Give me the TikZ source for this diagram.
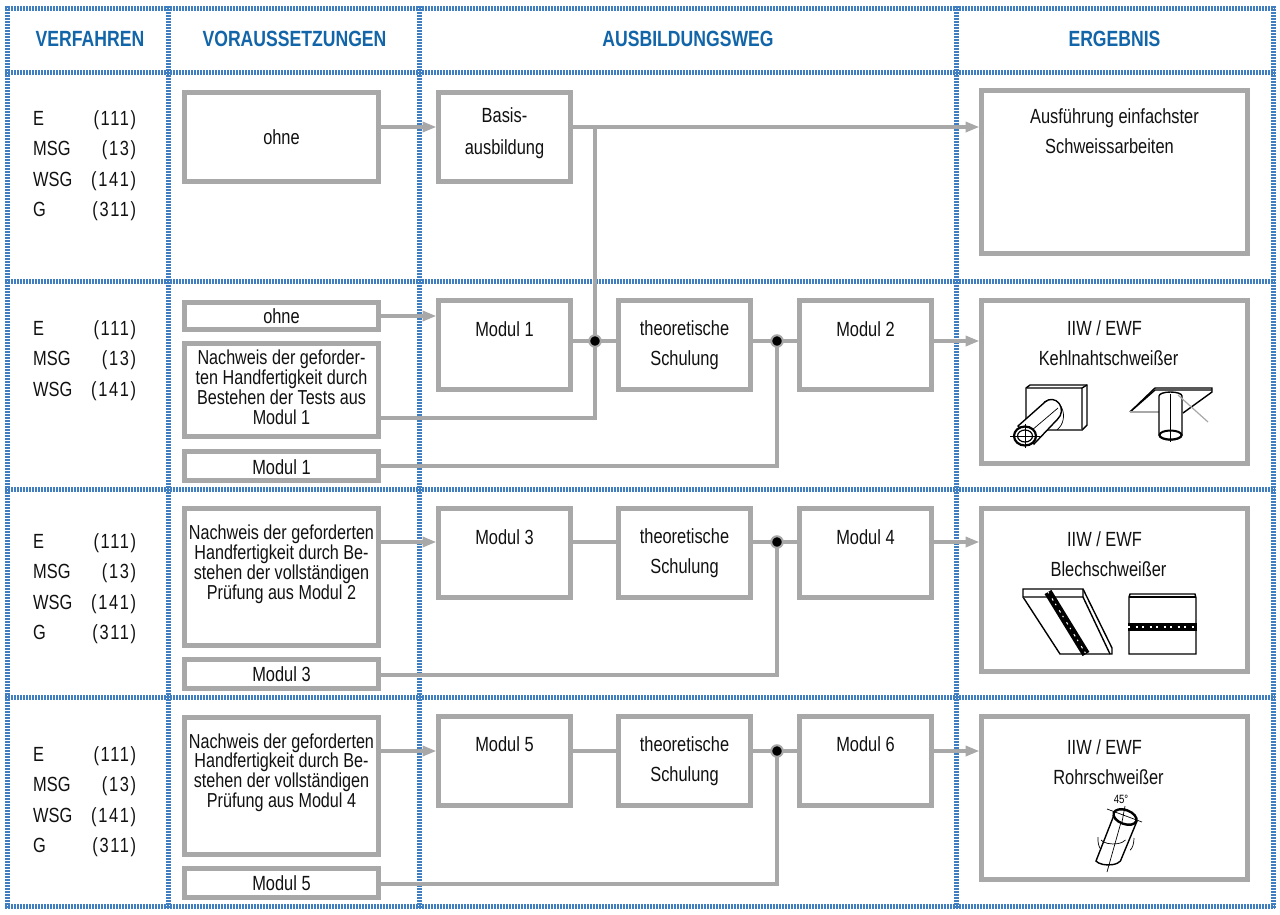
\documentclass[tikz,border=0pt]{standalone}
\usepackage{array}
\usepackage{fontspec}
\setmainfont[FakeStretch=0.80]{Liberation Sans}
\newfontfamily\procnum[FakeStretch=0.80,LetterSpace=8]{Liberation Sans}
\usetikzlibrary{arrows.meta, positioning, calc}
\definecolor{colour_head}{HTML}{1265A8}
\definecolor{colour_grid}{HTML}{3F7FC1}
\definecolor{colour_line}{HTML}{A8A8A8}
\definecolor{colour_text}{HTML}{111111}

\begin{document}
\begin{tikzpicture}
   [
      x=1pt, y=-1pt,
      grid/.style={colour_grid, line width=5pt, dash pattern=on 1.5pt off 1.5pt},
      head/.style={text=colour_head, font=\fontsize{22}{24}\selectfont\bfseries, inner sep=0pt},
      proc/.style={text=colour_text, font=\fontsize{20.5}{30.3}\selectfont, inner sep=0pt, anchor=north west},
      box/.style 2 args={draw=colour_line, line width=5pt, fill=white, inner sep=0pt, align=center,
         text=colour_text, font=\fontsize{20.5}{30}\selectfont, minimum width=#1-5pt, minimum height=#2-5pt},
      tight/.style={font=\fontsize{20.2}{19.8}\selectfont},
      flow/.style={colour_line, line width=4.5pt},
      flow tip/.style={flow, -{Triangle[length=14pt, width=10pt]}, shorten >=-0.5pt},
      junction/.style={circle, fill=black, draw=colour_line, line width=2pt, inner sep=0pt, minimum size=11.5pt},
      sketch/.style={black, line width=1.4pt, fill=white},
      thin sketch/.style={black, line width=0.7pt}
   ]

   \useasboundingbox (0,0) rectangle (1280,914);

   % =======================================================
   % Frame and headings
   % =======================================================

   \foreach \y in {8,72,281,489,697,906}
      \draw[grid] (5,\y) -- (1275,\y);
   \foreach \x in {7,168,419,956,1273}
      \draw[grid] (\x,6) -- (\x,908);

   \node[head] (head_proc) at (90,39)  {VERFAHREN};
   \node[head] (head_cond) at (294.5,39) {VORAUSSETZUNGEN};
   \node[head] (head_path) at (688,39) {AUSBILDUNGSWEG};
   \node[head] (head_res)  at (1114.5,39) {ERGEBNIS};

   % =======================================================
   % Row 1: Basisausbildung
   % =======================================================

   \node[proc] (proc_a) at (33,104) {\begin{tabular}{@{}p{58pt}@{}>{\procnum}r@{}}
      E & (111)\\ MSG & (13)\\ WSG & (141)\\ G & (311)\end{tabular}};

   \node[box={199pt}{94pt}] (none_a) at (281.5,137) {ohne};
   \node[box={137pt}{94pt}, text depth=12pt] (basis) at (504.5,137) {Basis-\\[2pt]ausbildung};
   \node[box={271pt}{168pt}, text depth=82pt] (res_a) at (1114.5,172) {Ausführung einfachster\\Schweissarbeiten\hspace*{10pt}};
   \coordinate (row_a) at (0,127);

   % =======================================================
   % Row 2: Kehlnahtschweisser
   % =======================================================

   \node[proc] (proc_b) at (33,314) {\begin{tabular}{@{}p{58pt}@{}>{\procnum}r@{}}
      E & (111)\\ MSG & (13)\\ WSG & (141)\end{tabular}};

   \node[box={199pt}{32pt}] (none_b) at (281.5,316) {ohne};
   \node[box={199pt}{98pt}, tight, text depth=6pt] (test_b) at (281.5,390)
      {Nachweis der geforder-\\ten Handfertigkeit durch\\Bestehen der Tests aus\\Modul 1};
   \node[box={199pt}{34pt}, text height=18pt] (pre_b) at (281.5,466) {Modul 1};
   \node[box={137pt}{94pt}, text depth=32pt] (mod_1) at (504.5,345) {Modul 1};
   \node[box={137pt}{94pt}] (theory_b) at (684.5,345) {theoretische\\Schulung};
   \node[box={137pt}{94pt}, text depth=32pt] (mod_2) at (865.5,345) {Modul 2};
   \node[box={271pt}{168pt}, text depth=78pt] (res_b) at (1114.5,382) {IIW / EWF\hspace*{20pt}\\Kehlnahtschweißer\hspace*{12pt}};
   \coordinate (row_b) at (0,341);
   \coordinate (exit_b) at (0,418);

   % =======================================================
   % Row 3: Blechschweisser
   % =======================================================

   \node[proc] (proc_c) at (33,527) {\begin{tabular}{@{}p{58pt}@{}>{\procnum}r@{}}
      E & (111)\\ MSG & (13)\\ WSG & (141)\\ G & (311)\end{tabular}};

   \node[box={199pt}{142pt}, tight, text depth=30pt] (test_c) at (281.5,577)
      {Nachweis der geforderten\\Handfertigkeit durch Be-\\stehen der vollständigen\\Prüfung aus Modul 2};
   \node[box={199pt}{34pt}] (pre_c) at (281.5,674) {Modul 3};
   \node[box={137pt}{94pt}, text depth=32pt] (mod_3) at (504.5,553) {Modul 3};
   \node[box={137pt}{94pt}] (theory_c) at (684.5,553) {theoretische\\Schulung};
   \node[box={137pt}{94pt}, text depth=32pt] (mod_4) at (865.5,553) {Modul 4};
   \node[box={271pt}{168pt}, text depth=72pt] (res_c) at (1114.5,590) {IIW / EWF\hspace*{20pt}\\Blechschweißer\hspace*{12pt}};
   \coordinate (row_c) at (0,542);
   \coordinate (exit_c) at (0,675);

   % =======================================================
   % Row 4: Rohrschweisser
   % =======================================================

   \node[proc] (proc_d) at (33,740) {\begin{tabular}{@{}p{58pt}@{}>{\procnum}r@{}}
      E & (111)\\ MSG & (13)\\ WSG & (141)\\ G & (311)\end{tabular}};

   \node[box={199pt}{142pt}, tight, text depth=31pt] (test_d) at (281.5,786)
      {Nachweis der geforderten\\Handfertigkeit durch Be-\\stehen der vollständigen\\Prüfung aus Modul 4};
   \node[box={199pt}{34pt}] (pre_d) at (281.5,883) {Modul 5};
   \node[box={137pt}{94pt}, text depth=34pt] (mod_5) at (504.5,761) {Modul 5};
   \node[box={137pt}{94pt}] (theory_d) at (684.5,761) {theoretische\\Schulung};
   \node[box={137pt}{94pt}, text depth=34pt] (mod_6) at (865.5,761) {Modul 6};
   \node[box={271pt}{168pt}, text depth=72pt] (res_d) at (1114.5,798) {IIW / EWF\hspace*{20pt}\\Rohrschweißer\hspace*{12pt}};
   \coordinate (row_d) at (0,751);
   \coordinate (exit_d) at (0,884);

   % =======================================================
   % Connectors
   % =======================================================

   \coordinate (drop_b) at (595,0);
   \coordinate (drop_a) at (777,0);

   % Row 1
   \draw[flow tip] (none_a.east |- row_a) -- (basis.west |- row_a);
   \draw[flow tip] (basis.east |- row_a) -- (res_a.west |- row_a);

   % Row 2
   \draw[flow tip] (none_b.east) -- (mod_1.west |- none_b.east);
   \draw[flow] (mod_1.east |- row_b) -- (theory_b.west |- row_b);
   \draw[flow] (theory_b.east |- row_b) -- (mod_2.west |- row_b);
   \draw[flow tip] (mod_2.east |- row_b) -- (res_b.west |- row_b);
   \draw[flow] (test_b.east |- exit_b) -- (drop_b |- exit_b) -- (drop_b |- row_a);
   \draw[flow] (pre_b.east) -- (drop_a |- pre_b.east) -- (drop_a |- row_b);
   \node[junction] (dot_b1) at (drop_b |- row_b) {};
   \node[junction] (dot_b2) at (drop_a |- row_b) {};

   % Row 3
   \draw[flow tip] (test_c.east |- row_c) -- (mod_3.west |- row_c);
   \draw[flow] (mod_3.east |- row_c) -- (theory_c.west |- row_c);
   \draw[flow] (theory_c.east |- row_c) -- (mod_4.west |- row_c);
   \draw[flow tip] (mod_4.east |- row_c) -- (res_c.west |- row_c);
   \draw[flow] (pre_c.east |- exit_c) -- (drop_a |- exit_c) -- (drop_a |- row_c);
   \node[junction] (dot_c) at (drop_a |- row_c) {};

   % Row 4
   \draw[flow tip] (test_d.east |- row_d) -- (mod_5.west |- row_d);
   \draw[flow] (mod_5.east |- row_d) -- (theory_d.west |- row_d);
   \draw[flow] (theory_d.east |- row_d) -- (mod_6.west |- row_d);
   \draw[flow tip] (mod_6.east |- row_d) -- (res_d.west |- row_d);
   \draw[flow] (pre_d.east |- exit_d) -- (drop_a |- exit_d) -- (drop_a |- row_d);
   \node[junction] (dot_d) at (drop_a |- row_d) {};

   % =======================================================
   % Sketches in the result boxes
   % =======================================================

   % Fillet weld, tube on upright plate
   \draw[sketch] (1026,388) -- (1030,385) -- (1087,385) -- (1087,425) -- (1082,430) -- (1026,430) -- cycle;
   \draw[sketch] (1026,388) -- (1082,388) -- (1082,430) (1082,388) -- (1087,385);
   \draw[thin sketch] (1044,402) arc[start angle=120, end angle=-60, x radius=13pt, y radius=16pt];
   \draw[sketch] (1018,426) -- (1045,402) arc[start angle=130, end angle=-50, x radius=10pt, y radius=11pt] -- (1034,444) -- cycle;
   \draw[thin sketch] (1025,436) -- (1058,408);
   \draw[sketch, line width=2.2pt] (1025,436) ellipse[x radius=11pt, y radius=9.5pt];
   \draw[sketch, line width=1.2pt] (1025,436) ellipse[x radius=7.5pt, y radius=6pt];
   \draw[thin sketch] (1010,436) -- (1040,436) (1025,424) -- (1025,448);

   % Fillet weld, tube under flat plate
   \draw[sketch] (1130,412) -- (1155,388) -- (1212,388) -- (1212,392) -- (1183,413);
   \draw[sketch] (1130,412) -- (1155,390) -- (1212,390);
   \draw[colour_line, line width=1.2pt] (1130,412) -- (1160,412);
   \draw[sketch] (1159,396) -- (1159,435) arc[start angle=180, end angle=360, x radius=11.5pt, y radius=5pt] -- (1182,396) arc[start angle=0, end angle=180, x radius=11.5pt, y radius=4pt];
   \draw[sketch, line width=2pt] (1170.5,435) ellipse[x radius=11pt, y radius=4.5pt];
   \draw[thin sketch] (1170.5,394) -- (1170.5,442);
   \draw[colour_line, line width=1.2pt] (1178,395) -- (1208,422);

   % Sheet with diagonal seam
   \draw[sketch] (1023,589) -- (1083,589) -- (1112,648) -- (1112,654) -- (1060,654) -- (1023,597) -- cycle;
   \draw[sketch] (1023,597) -- (1083,597) -- (1110,654) (1083,589) -- (1083,597);
   \draw[black, line width=8pt] (1048,592) -- (1086,654);
   \draw[white, line width=1pt, dash pattern=on 1.5pt off 6pt on 2.5pt off 4pt] (1048,592) -- (1086,654);

   % Sheet with horizontal seam
   \draw[sketch] (1130,594) -- (1195,594) -- (1196,598) -- (1196,654) -- (1129,654) -- (1129,597) -- cycle;
   \draw[sketch] (1129,597) -- (1196,597);
   \draw[black, line width=8pt] (1128,627) -- (1197,627);
   \draw[white, line width=1.2pt, dash pattern=on 1.5pt off 6pt on 2.5pt off 4pt] (1128,627) -- (1197,627);

   % Tube at 45 degrees
   \draw[sketch] (1114,815) -- (1096,861) arc[start angle=200, end angle=340, x radius=13pt, y radius=6pt] -- (1137,821);
   \draw[thin sketch] (1101,840) arc[start angle=200, end angle=340, x radius=13pt, y radius=6pt];
   \draw[thin sketch] (1098,837) arc[start angle=170, end angle=240, x radius=6pt, y radius=12pt];
   \draw[thin sketch] (1134,838) arc[start angle=0, end angle=-70, x radius=6pt, y radius=13pt];
   \draw[thin sketch] (1125,808) -- (1107,872);
   \draw[black, fill=white, line width=2.4pt, rotate around={-20:(1125,817)}] (1125,817) ellipse[x radius=12pt, y radius=7pt];
   \draw[thin sketch] (1107,809) -- (1142,822) (1125,806) -- (1122,822);
   \node[inner sep=0pt, font=\fontsize{12}{12}\selectfont] (angle) at (1121,799) {45°};

\end{tikzpicture}
\end{document}
